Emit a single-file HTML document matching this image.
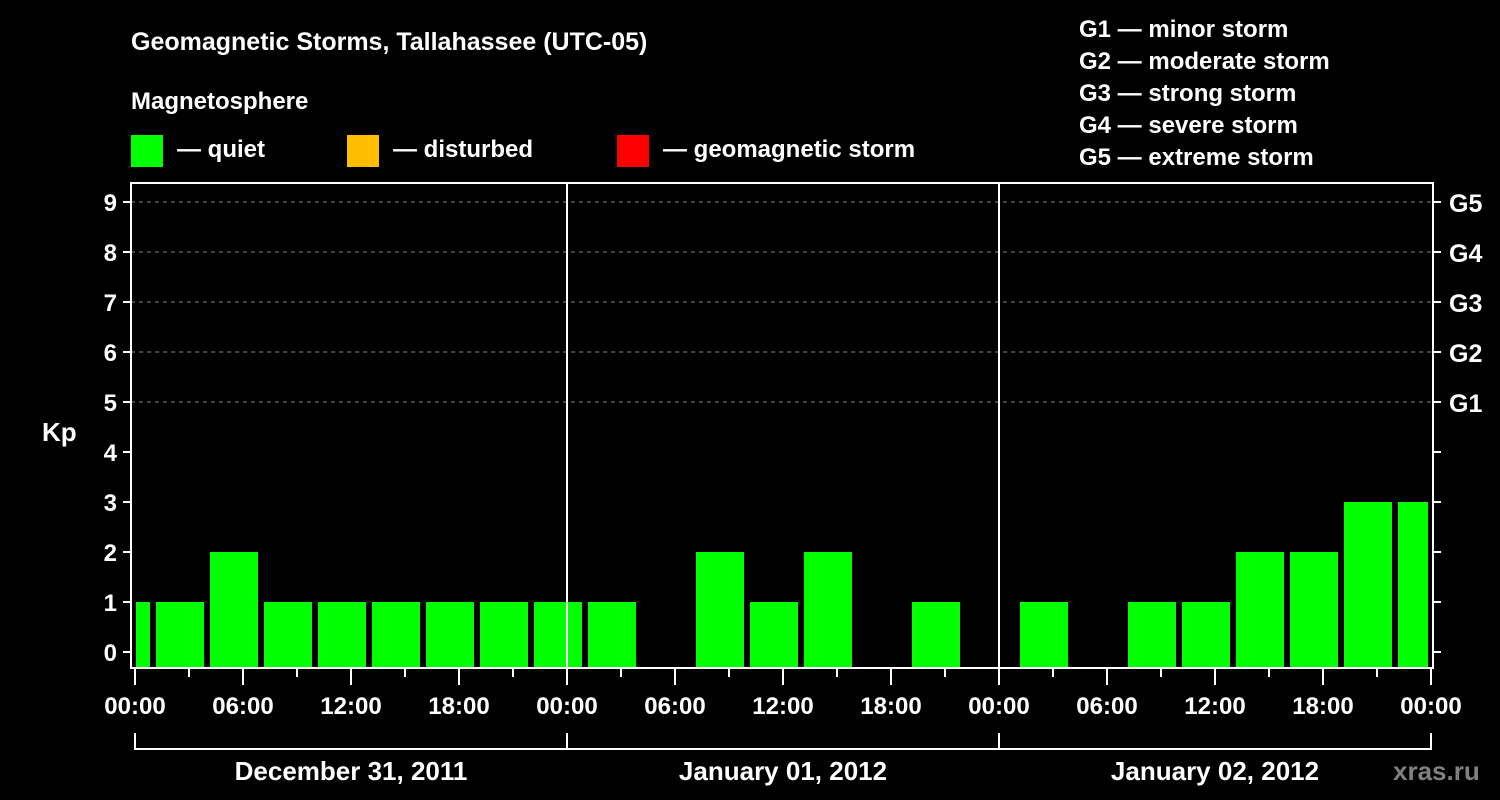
<!DOCTYPE html>
<html><head><meta charset="utf-8"><style>
body{margin:0;background:#000;}
svg{display:block;font-family:"Liberation Sans",Arial,sans-serif;font-weight:bold;}
</style></head><body>
<svg width="1500" height="800" viewBox="0 0 1500 800">
<rect width="1500" height="800" fill="#000"/>
<text x="131" y="50" fill="#fff" font-size="25">Geomagnetic Storms, Tallahassee (UTC-05)</text>
<text x="131" y="109" fill="#fff" font-size="24">Magnetosphere</text>
<g>
<rect x="131" y="135" width="32" height="32" fill="#00ff00"/>
<text x="177" y="157" fill="#fff" font-size="24">— quiet</text>
<rect x="347" y="135" width="32" height="32" fill="#ffbf00"/>
<text x="393" y="157" fill="#fff" font-size="24">— disturbed</text>
<rect x="617" y="135" width="32" height="32" fill="#ff0000"/>
<text x="663" y="157" fill="#fff" font-size="24">— geomagnetic storm</text>
</g>
<g fill="#fff" font-size="24">
<text x="1079" y="37">G1 — minor storm</text>
<text x="1079" y="69">G2 — moderate storm</text>
<text x="1079" y="101">G3 — strong storm</text>
<text x="1079" y="133">G4 — severe storm</text>
<text x="1079" y="165">G5 — extreme storm</text>
</g>
<text x="42" y="441" fill="#fff" font-size="26">Kp</text>
<g id="plot"></g>
<text x="1393" y="780" fill="#808080" font-size="26">xras.ru</text>
</svg>
<script>
const kpValues = [1,1,2,1,1,1,1,1,1,1,0,2,1,2,0,1,0,1,0,1,1,2,2,3,3];
const yTicks = [0,1,2,3,4,5,6,7,8,9];
const gLabels = ["G1","G2","G3","G4","G5"];
const xLabels = ["00:00","06:00","12:00","18:00","00:00","06:00","12:00","18:00","00:00","06:00","12:00","18:00","00:00"];
const dayLabels = ["December 31, 2011","January 01, 2012","January 02, 2012"];

const NS="http://www.w3.org/2000/svg";
const g=document.getElementById('plot');
const X0=135, PXH=18, L=131, R=1433, T=183, B=668;
const xs=h=>X0+h*PXH;
const ys=v=>652-v*50;
function el(t,a){const e=document.createElementNS(NS,t);for(const k in a)e.setAttribute(k,a[k]);g.appendChild(e);return e;}
// grid
for(let v=5;v<=9;v++){const e=el('line',{x1:L,x2:R,y1:ys(v),y2:ys(v),stroke:'#888','stroke-dasharray':'4,4','stroke-width':1});

}
// bars (first bar starts 2h before day start, UTC-05 offset)
kpValues.forEach((v,i)=>{
  if(v<=0)return;
  let x1=xs(-2+3*i)+3, x2=xs(1+3*i)-3;
  x1=Math.max(x1,X0+1); x2=Math.min(x2,1428);
  const col=v>=5?'#ff0000':(v>=4?'#ffbf00':'#00ff00');
  const r=el('rect',{x:x1,y:ys(v),width:x2-x1,height:B-1-ys(v),fill:col});
  
  
});
// frame
const f=el('rect',{x:L,y:T,width:R-L,height:B-T,fill:'none',stroke:'#fff','stroke-width':2});


for(let d=1;d<3;d++){const e=el('line',{x1:xs(24*d),x2:xs(24*d),y1:T,y2:B,stroke:'#fff','stroke-width':2});

}
// y ticks
yTicks.forEach(v=>{
  el('line',{x1:L-8,x2:L,y1:ys(v),y2:ys(v),stroke:'#fff','stroke-width':2});
  el('line',{x1:R,x2:R+8,y1:ys(v),y2:ys(v),stroke:'#fff','stroke-width':2});
  const t=el('text',{x:L-14,y:ys(v)+9,fill:'#fff','font-size':24,'text-anchor':'end'});t.textContent=v;
  
  
});
gLabels.forEach((s,i)=>{
  const t=el('text',{x:1449,y:ys(5+i)+10,fill:'#fff','font-size':25});t.textContent=s;
  
  
});
// x ticks
for(let h=0;h<=72;h+=3){
  const major=h%6===0;
  el('line',{x1:xs(h),x2:xs(h),y1:B,y2:B+(major?17:9),stroke:'#fff','stroke-width':2});
}
xLabels.forEach((s,i)=>{
  const t=el('text',{x:xs(i*6),y:714,fill:'#fff','font-size':24,'text-anchor':'middle'});t.textContent=s;
  
  
});
// day brackets
el('line',{x1:xs(0),x2:xs(72),y1:749,y2:749,stroke:'#fff','stroke-width':2});
for(let d=0;d<=3;d++)el('line',{x1:xs(24*d),x2:xs(24*d),y1:733,y2:750,stroke:'#fff','stroke-width':2});
dayLabels.forEach((s,i)=>{
  const t=el('text',{x:xs(24*i+12),y:780,fill:'#fff','font-size':26,'text-anchor':'middle'});t.textContent=s;
  
  
});
</script>
</body></html>
